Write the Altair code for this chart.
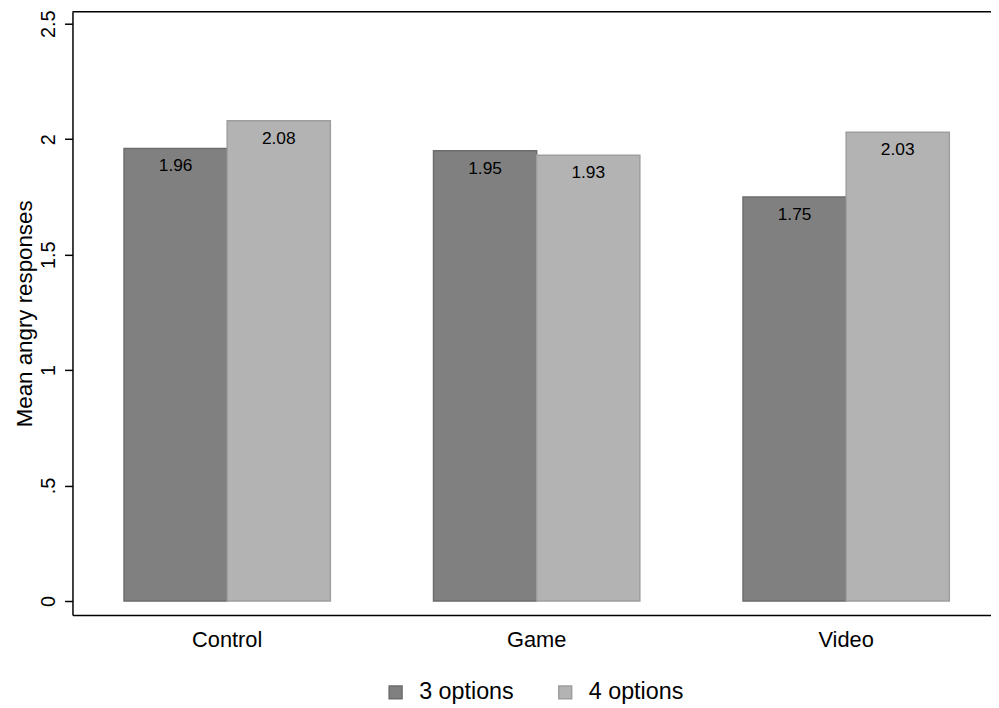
import altair as alt
import pandas as pd

groups = ["Control", "Game", "Video"]
series = ["3 options", "4 options"]
values_3 = [1.96, 1.95, 1.75]
values_4 = [2.08, 1.93, 2.03]
labels_3 = ["1.96", "1.95", "1.75"]
labels_4 = ["2.08", "1.93", "2.03"]
y_ticks = [0, 0.5, 1, 1.5, 2, 2.5]
fill_colors = ["#808080", "#b3b3b3"]
stroke_colors = ["#6c6c6c", "#9e9e9e"]

rows = []
for g, v3, v4, l3, l4 in zip(groups, values_3, values_4, labels_3, labels_4):
    rows.append({"group": g, "series": series[0], "value": v3, "label": l3})
    rows.append({"group": g, "series": series[1], "value": v4, "label": l4})
df = pd.DataFrame(rows)

W, H = 926, 608
FONT = "Liberation Sans"

x = alt.X(
    "group:N", sort=groups,
    scale=alt.Scale(paddingInner=1 / 3, paddingOuter=0.1506, align=0.553),
    axis=alt.Axis(title=None, labelAngle=0, ticks=False, domainColor="black",
                  domainWidth=1.5, labelFontSize=22, labelPadding=15,
                  labelColor="black", labelFont=FONT),
)
xoff = alt.XOffset("series:N", sort=series,
                   scale=alt.Scale(paddingInner=0, paddingOuter=0))
y = alt.Y(
    "value:Q",
    scale=alt.Scale(domain=[-0.0601, 2.5515], nice=False, zero=False),
    axis=alt.Axis(
        values=y_ticks, grid=False, title="Mean angry responses",
        labelExpr="replace(toString(datum.value), '0.', '.')",
        labelAngle=270, labelAlign="center", labelBaseline="alphabetic",
        labelPadding=10, labelFontSize=20, labelColor="black", labelFont=FONT,
        tickSize=8, tickWidth=1.5, tickColor="black",
        domainColor="black", domainWidth=1.5,
        titleFontSize=22.5, titleFontWeight="normal", titleColor="black",
        titleFont=FONT, titleAngle=270, titleX=-41, titleY=H / 2,
        titleBaseline="alphabetic", titleAlign="center",
    ),
)

legend = alt.Legend(
    title=None, orient="none", legendX=314, legendY=674, direction="horizontal",
    symbolType="square", symbolSize=169, symbolStrokeWidth=1.5,
    labelFontSize=23.5, labelFont=FONT, labelColor="black", labelOffset=12,
    columnPadding=40, padding=0,
)

bars = alt.Chart(df).mark_bar(strokeWidth=1.5).encode(
    x=x, xOffset=xoff, y=y, y2=alt.datum(0),
    color=alt.Color("series:N", sort=series,
                    scale=alt.Scale(domain=series, range=fill_colors), legend=legend),
    stroke=alt.Stroke("series:N", sort=series,
                      scale=alt.Scale(domain=series, range=stroke_colors), legend=legend),
)

text = alt.Chart(df).mark_text(baseline="top", dy=9, fontSize=17.5, font=FONT,
                               color="black").encode(
    x=alt.X("group:N", sort=groups), xOffset=alt.XOffset("series:N", sort=series),
    y="value:Q", text="label:N",
)

top_line = alt.Chart(alt.Data(values=[{}])).mark_rule(
    color="black", strokeWidth=1.5
).encode(x=alt.value(0), x2=alt.value(W), y=alt.value(0))

chart = alt.layer(bars, text, top_line).properties(
    width=W, height=H,
    padding={"left": 65, "top": 1, "right": 0, "bottom": 90},
    autosize=alt.AutoSizeParams(type="none"),
).configure_view(stroke=None)

chart.save("out.html", embed_options={"renderer": "svg", "actions": False})
